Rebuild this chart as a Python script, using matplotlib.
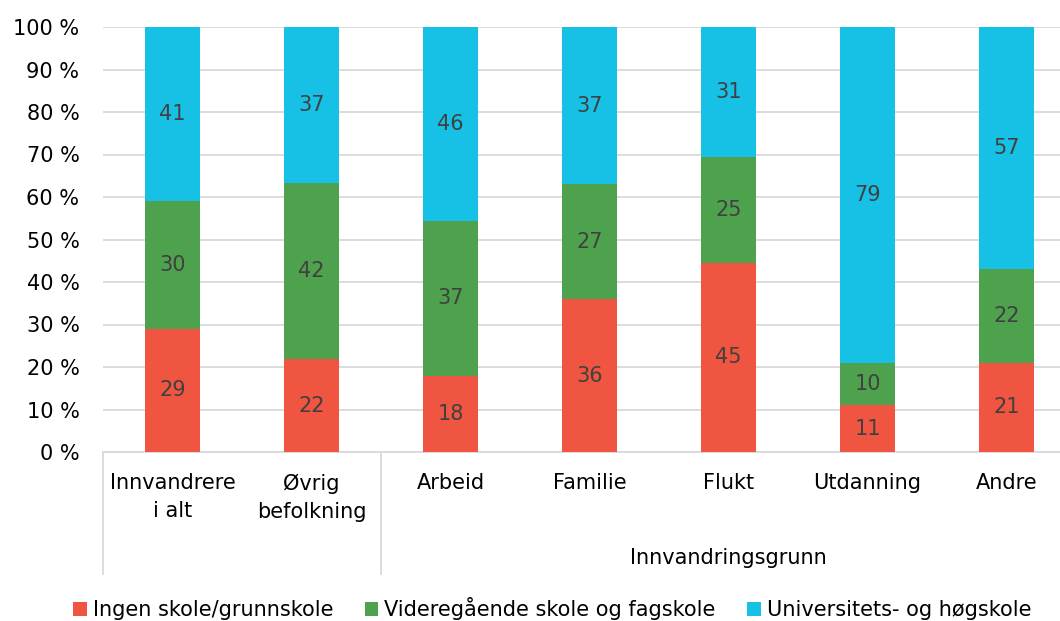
import numpy as np
import matplotlib
matplotlib.use("Agg")
import matplotlib.pyplot as plt
from matplotlib.patches import Patch
import matplotlib.transforms as mtransforms

plt.rcParams['font.family'] = ['DejaVu Sans']

kategorier = ["Innvandrere\ni alt", "Øvrig\nbefolkning", "Arbeid", "Familie",
              "Flukt", "Utdanning", "Andre"]
ingen = np.array([29, 22, 18, 36, 45, 11, 21])
vgs = np.array([30, 42, 37, 27, 25, 10, 22])
uni = np.array([41, 37, 46, 37, 31, 79, 57])
serier = ["Ingen skole/grunnskole", "Videregående skole og fagskole", "Universitets- og høgskole"]
gruppe_tittel = "Innvandringsgrunn"

farger = ["#F05541", "#4EA24E", "#17C1E6"]
grid_col = "#D9D9D9"

# bars fill to 100 % even where rounded numbers sum to 101
tot = ingen + vgs + uni
verdier = [ingen, vgs, uni]
andeler = [v / tot * 100 for v in verdier]

fig = plt.figure(figsize=(10.6, 6.21), dpi=100)
ax = fig.add_axes([103/1060, 169/621, 973/1060, 425/621])

x = np.arange(len(kategorier))
bunn = np.zeros(len(kategorier))
for v, a, c in zip(verdier, andeler, farger):
    ax.bar(x, a, 0.4, bottom=bunn, color=c, zorder=3)
    for xi, b, ai, vi in zip(x, bunn, a, v):
        ax.text(xi, b + ai / 2, str(vi), ha='center', va='center',
                fontsize=15, color="#404040", zorder=4)
    bunn += a

ax.set_xlim(-0.5, len(kategorier) - 0.5)
ax.set_ylim(0, 100)
ax.set_yticks(np.arange(0, 101, 10))
ax.set_yticklabels(["%d %%" % t for t in range(0, 101, 10)], fontsize=15)
ax.yaxis.grid(True, color=grid_col, linewidth=1.3, zorder=0)
ax.tick_params(axis='y', length=0, pad=17)
ax.set_xticks([])
for s in ["top", "right", "left"]:
    ax.spines[s].set_visible(False)
ax.spines["bottom"].set_color(grid_col)
ax.spines["bottom"].set_linewidth(1.3)

trans = mtransforms.blended_transform_factory(ax.transData, ax.transAxes)
for xi, lab in zip(x, kategorier):
    ax.text(xi, -0.05, lab, transform=trans, ha='center', va='top',
            fontsize=15, linespacing=1.5)
for xs in [-0.5, 1.5, 6.5]:
    ax.plot([xs, xs], [0, -0.287], transform=trans, color=grid_col,
            linewidth=1.3, clip_on=False)
ax.text(4, -0.25, gruppe_tittel, transform=trans, ha='center', va='center', fontsize=15)

handles = [Patch(facecolor=c, edgecolor='none') for c in farger]
fig.legend(handles, serier, loc='center', bbox_to_anchor=(0.521, 0.02), ncol=3,
           frameon=False, fontsize=15, handlelength=0.65, handleheight=0.65,
           handletextpad=0.3, columnspacing=1.5)

fig.savefig("out.png", dpi=100)
